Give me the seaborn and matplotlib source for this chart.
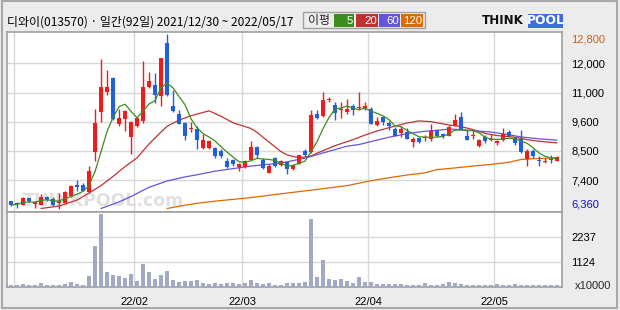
import matplotlib
matplotlib.use("Agg")
import numpy as np
import pandas as pd
import seaborn as sns
import matplotlib.pyplot as plt
from matplotlib.patches import Rectangle

# ---------------- data ----------------
title_text = "디와이(013570) · 일간(92일) 2021/12/30 ~ 2022/05/17"

opens = [6650, 6600, 6520, 6760, 6570, 6520, 6820, 6750, 6580, 6600,
         6850, 7270, 7250, 7010, 8460, 9920, 10690, 11180, 9490, 9690,
         9010, 9410, 9590, 10840, 10930, 10510, 12480, 10170, 9870, 9530,
         9320, 9320, 8620, 8620, 8620, 8490, 8150, 8190, 7920, 7920,
         8190, 8650, 8170, 7680, 8260, 7980, 8090, 7850, 8030, 8520,
         8470, 9870, 9780, 10360, 10200, 10000, 9930, 10170, 10080, 10080,
         10060, 9450, 9740, 9530, 9320, 9170, 9190, 8820, 8970, 8990,
         8960, 9230, 9140, 9070, 9430, 9750, 9070, 9050, 8680, 9010,
         8910, 8800, 8920, 9190, 8980, 8960, 8210, 8520, 8140, 8090,
         8190, 8130]
highs = [6680, 6630, 6810, 6790, 6680, 6910, 6850, 6810, 6970, 7030,
         7240, 7420, 7340, 7970, 10060, 11890, 11480, 11240, 10060, 10020,
         9590, 9750, 11810, 11390, 11360, 11930, 12800, 10750, 10020, 9560,
         9560, 9410, 9130, 8920, 8650, 8580, 8250, 8210, 8070, 8190,
         8860, 8680, 8250, 8010, 8290, 8170, 8130, 8040, 8370, 8560,
         10020, 10020, 10680, 10470, 10290, 10290, 10410, 10230, 10680, 10290,
         10120, 9740, 9800, 9620, 9370, 9430, 9350, 9010, 9010, 9100,
         9510, 9320, 9170, 9460, 9870, 9920, 9260, 9290, 8960, 9100,
         9140, 8920, 9360, 9260, 9020, 9290, 8560, 8560, 8310, 8250,
         8340, 8310]
lows = [6480, 6420, 6500, 6630, 6420, 6500, 6660, 6480, 6360, 6590,
        6820, 7030, 7030, 6970, 8130, 9560, 10570, 9650, 9430, 9230,
        8400, 9370, 9530, 10810, 10260, 10170, 10510, 9930, 9490, 8900,
        9190, 8580, 8580, 8560, 8250, 8250, 7880, 7950, 7760, 7880,
        8170, 8250, 7850, 7680, 7920, 7950, 7640, 7820, 8010, 8310,
        8430, 9680, 9750, 10290, 9650, 9710, 9860, 9840, 10000, 10000,
        9490, 9430, 9470, 9290, 9040, 9010, 8950, 8650, 8800, 8860,
        8860, 9010, 8980, 9040, 9410, 9260, 8900, 8960, 8650, 8800,
        8860, 8740, 8860, 9040, 8740, 8430, 7970, 8250, 7970, 8070,
        8070, 8130]
closes = [6520, 6550, 6790, 6660, 6590, 6820, 6730, 6520, 6680, 6990,
          7210, 7180, 7050, 7760, 9530, 10870, 10870, 9680, 9710, 9980,
          9560, 9710, 10840, 11080, 10570, 11930, 10570, 9960, 9510, 9040,
          9360, 8900, 8920, 8860, 8310, 8310, 7920, 8010, 8010, 8150,
          8650, 8340, 7880, 7950, 7950, 8120, 7850, 7980, 8340, 8350,
          9840, 9710, 10390, 10390, 9900, 10020, 10060, 10020, 10110, 10170,
          9510, 9620, 9560, 9410, 9070, 9310, 8960, 8950, 8840, 9010,
          9250, 9040, 9040, 9370, 9650, 9290, 8920, 9070, 8920, 8860,
          8920, 8880, 9140, 9070, 8780, 8460, 8490, 8310, 8130, 8150,
          8180, 8270]
volumes = [70, 70, 114, 70, 70, 159, 70, 70, 99, 114,
           203, 114, 70, 515, 1820, 3275, 693, 559, 515, 381,
           604, 248, 1049, 693, 337, 559, 737, 292, 218, 248,
           248, 292, 188, 114, 159, 114, 159, 159, 114, 159,
           292, 159, 114, 159, 70, 70, 159, 159, 159, 203,
           3053, 426, 1227, 337, 292, 337, 248, 159, 426, 203,
           203, 114, 114, 114, 114, 114, 70, 70, 70, 159,
           70, 70, 114, 203, 159, 114, 70, 70, 70, 70,
           70, 114, 70, 70, 114, 70, 70, 70, 70, 70,
           70, 70]

# moving averages (index, value)
ma20_idx = [5, 8, 11, 13, 15, 17, 19, 21, 23, 25, 26, 28, 30, 33, 35, 37, 40, 41, 43, 45,
            46, 48, 50, 51, 54, 57, 59, 61, 64, 66, 68, 70, 73, 75, 77, 79, 81, 84, 86, 88, 91]
ma20_val = [6390, 6480, 6700, 6960, 7230, 7570, 7930, 8250, 8760, 9200, 9410, 9640, 9800, 9980,
            9780, 9540, 9330, 9190, 8830, 8480, 8360, 8250, 8320, 8420, 8700, 8920, 9090, 9240,
            9420, 9530, 9610, 9580, 9460, 9400, 9290, 9150, 9070, 9010, 8920, 8860, 8800]
ma60_idx = [15, 18, 20, 23, 26, 29, 31, 34, 40, 45, 49, 52, 56, 58, 60, 63, 66, 69, 71, 73,
            75, 77, 80, 83, 85, 88, 91]
ma60_val = [6390, 6630, 6830, 7170, 7400, 7550, 7630, 7760, 7950, 8060, 8240, 8430, 8680, 8740,
            8850, 9010, 9140, 9230, 9260, 9310, 9290, 9250, 9200, 9100, 9020, 8950, 8900]
ma120_idx = [26, 29, 31, 34, 40, 45, 51, 56, 60, 63, 66, 69, 71, 74, 77, 80, 83, 85, 88, 91]
ma120_val = [6390, 6510, 6580, 6660, 6790, 6930, 7090, 7230, 7410, 7520, 7620, 7700, 7820,
             7880, 7950, 8010, 8090, 8190, 8230, 8250]

price_min, price_max = 6360, 12800
price_tick_labels = ["6,360", "7,400", "8,500", "9,600", "11,000", "12,000", "12,800"]
vol_ticks = [1124, 2237]
month_first_idx = [1, 21, 39, 60, 81]
month_labels = ["", "22/02", "22/03", "22/04", "22/05"]
ma_labels = ["5", "20", "60", "120"]

# ---------------- style ----------------
sns.set_theme(style="white")
plt.rcParams["font.family"] = ["Liberation Sans", "Noto Sans CJK KR", "DejaVu Sans"]

C_UP, C_DN = "#F01C1C", "#1F5FE0"
C_MA = ["#3C8C1E", "#C03232", "#6455DC", "#DC6A00"]
C_GRID, C_FRAME = "#D8D8D8", "#A0A0A0"

W, H = 620, 310
fig = plt.figure(figsize=(6.2, 3.1), dpi=100, facecolor="#ECECEC")


def fax(x0, y0, x1, y1):
    return fig.add_axes([x0 / W, 1 - y1 / H, (x1 - x0) / W, (y1 - y0) / H])


ax = fax(7, 32, 562, 212)
axv = fax(7, 212, 562, 287)

idx = np.arange(len(closes))
o, h, l, c = map(np.array, (opens, highs, lows, closes))
cols = np.where(c >= o, C_UP, C_DN)

xlim = (-0.67, 91.83)
step = (price_max - price_min) / 6
pticks = [price_min + k * step for k in range(7)]
ylo = price_min - 2.7 * (price_max - price_min) / 175.2
yhi = price_max + 2.1 * (price_max - price_min) / 175.2

for a in (ax, axv):
    a.set_facecolor("white")
    a.set_xlim(*xlim)
    for s in a.spines.values():
        s.set_color(C_FRAME)
        s.set_linewidth(1.2)
    a.set_xticks([m - 0.5 for m in month_first_idx])
    a.grid(True, color=C_GRID, lw=1)
    a.set_axisbelow(True)
    a.yaxis.tick_right()
    a.tick_params(axis="both", length=0, labelsize=8, colors="black")

# price panel
ax.set_ylim(ylo, yhi)
ax.set_yticks(pticks)
ax.set_yticklabels(price_tick_labels)
ax.tick_params(axis="y", pad=6.5)
ax.set_xticklabels([])
gl = ax.get_ygridlines()
gl[0].set_visible(False)
gl[-1].set_visible(False)
tl = ax.get_yticklabels()
tl[-1].set_color("#D06010")
tl[-1].set_va("top")
tl[0].set_color("#1010D0")
tl[0].set_va("bottom")

ax.text(2.0, 6330, "THINKPOOL.com", fontsize=12.5, fontweight="bold", color="#E0E0E0",
        family="DejaVu Sans", zorder=1, va="bottom")

ax.vlines(idx, l, h, colors=cols, lw=1, zorder=3)
ax.bar(idx, np.maximum(np.abs(c - o), 40), bottom=np.minimum(o, c), width=0.82,
       color=cols, lw=0, zorder=4)

ma5 = pd.Series(closes).rolling(5, min_periods=1).mean()
sns.lineplot(x=idx, y=ma5.values, ax=ax, color=C_MA[0], lw=0.9, zorder=5)
sns.lineplot(x=ma20_idx, y=ma20_val, ax=ax, color=C_MA[1], lw=0.9, zorder=2)
sns.lineplot(x=ma60_idx, y=ma60_val, ax=ax, color=C_MA[2], lw=0.9, zorder=2)
sns.lineplot(x=ma120_idx, y=ma120_val, ax=ax, color=C_MA[3], lw=0.9, zorder=2)
ax.set_ylim(ylo, yhi)
ax.set_xlim(*xlim)

# volume panel
axv.bar(idx, volumes, width=0.78, color="#A0AAC6", lw=0, zorder=3)
axv.set_ylim(0, 3361)
axv.set_yticks(vol_ticks)
axv.set_yticklabels([str(v) for v in vol_ticks])
axv.tick_params(axis="y", pad=6.5)
axv.set_xticklabels(month_labels)
axv.tick_params(axis="x", pad=7)

# overlay for header decorations
ov = fig.add_axes([0, 0, 1, 1])
ov.set_xlim(0, W)
ov.set_ylim(H, 0)
ov.axis("off")
ov.patch.set_alpha(0)

ov.text(7, 22, title_text, fontsize=8.6, va="center", ha="left",
        family=["Noto Sans CJK KR", "DejaVu Sans"], color="black")

ov.add_patch(Rectangle((303, 12), 122, 16, fill=False, ec="#A0A0A0", lw=1))
ov.text(308, 20.5, "이평", fontsize=8.6, va="center", ha="left",
        family=["Noto Sans CJK KR", "DejaVu Sans"])
boxes = [(334, 354), (356, 378), (379, 400), (401, 423)]
for (x0, x1), col, lab in zip(boxes, C_MA, ma_labels):
    ov.add_patch(Rectangle((x0, 14), x1 - x0, 12.5, color=col, lw=0))
    ov.text(x1 - 1, 20.5, lab, fontsize=8.2, color="white", va="center", ha="right")

ov.text(482, 21, "THINK", fontsize=8.6, fontweight="bold", color="#111111",
        family="DejaVu Sans", va="center", ha="left")
ov.add_patch(Rectangle((528, 14), 35, 14, color="#3C6EDC", lw=0))
ov.text(545.5, 21, "POOL", fontsize=8.8, fontweight="bold", color="white",
        family="DejaVu Sans", va="center", ha="center")

ov.text(575, 286, "x10000", fontsize=8, va="center", ha="left")
ov.add_patch(Rectangle((1.5, 1), 615.5, 307.3, fill=False, ec="#A8A8A8", lw=1.5))

fig.savefig("out.png", dpi=100, facecolor=fig.get_facecolor())
